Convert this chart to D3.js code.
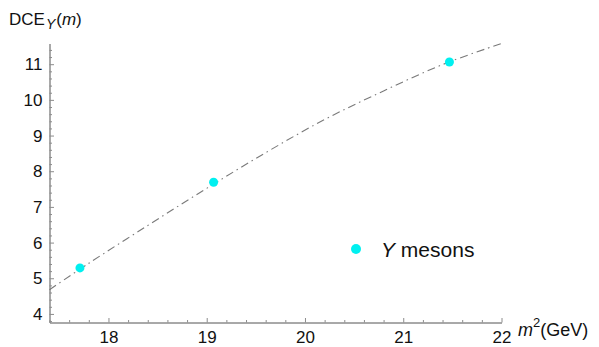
<!DOCTYPE html>
<html>
<head>
<meta charset="utf-8">
<script src="https://cdn.jsdelivr.net/npm/d3@7"></script>
<style>
  body { margin: 0; background: #fff; }
  svg { display: block; font-family: "Liberation Sans", Arial, sans-serif; }
</style>
</head>
<body>
<div id="chart"></div>
<script>
// measured points
const mesonM2 = [17.71, 19.07, 21.47];
const mesonDCE = [5.29, 7.69, 11.06];

// fitted curve
const curveM2 = [17.40, 17.80, 18.40, 19.00, 19.60, 20.20, 20.80, 21.40, 22.00];
const curveDCE = [4.68, 5.42, 6.48, 7.52, 8.52, 9.45, 10.25, 10.99, 11.58];

const xMajor = [18, 19, 20, 21, 22];
const yMajor = [4, 5, 6, 7, 8, 9, 10, 11];

const width = 599;
const height = 347;

const x = d3.scaleLinear().domain([17.40, 22.0]).range([49.5, 501.5]);
const y = d3.scaleLinear().domain([3.76, 11.58]).range([322.5, 43.5]);

const axisColor = "#8c8c8c";
const pointColor = "#00f0f0";

const svg = d3.select("#chart")
    .append("svg")
    .attr("width", width)
    .attr("height", height);

const xMinor = d3.range(17.4, 22.001, 0.2).map(v => +v.toFixed(1)).filter(v => !xMajor.includes(v));
const yMinor = d3.range(3.8, 11.58, 0.2).map(v => +v.toFixed(1)).filter(v => !yMajor.includes(v));

function styleAxis(g) {
    g.select(".domain").attr("stroke", axisColor);
    g.selectAll(".tick line").attr("stroke", axisColor);
    g.selectAll(".tick text")
        .attr("fill", "#111")
        .style("font-size", "17px")
        .style("font-family", "'Liberation Sans', Arial, sans-serif");
}

// minor ticks
svg.append("g")
    .attr("transform", `translate(0,${y.range()[0]})`)
    .call(d3.axisBottom(x).tickValues(xMinor).tickSize(-2.5).tickSizeOuter(0).tickFormat(""))
    .call(styleAxis);
svg.append("g")
    .attr("transform", `translate(${x.range()[0]},0)`)
    .call(d3.axisLeft(y).tickValues(yMinor).tickSize(-2.5).tickSizeOuter(0).tickFormat(""))
    .call(styleAxis);

// major ticks
svg.append("g")
    .attr("transform", `translate(0,${y.range()[0]})`)
    .call(d3.axisBottom(x).tickValues(xMajor).tickSize(-4.5).tickSizeOuter(0).tickPadding(8).tickFormat(d3.format("d")))
    .call(styleAxis);
svg.append("g")
    .attr("transform", `translate(${x.range()[0]},0)`)
    .call(d3.axisLeft(y).tickValues(yMajor).tickSize(-4.5).tickSizeOuter(0).tickPadding(7).tickFormat(d3.format("d")))
    .call(styleAxis);

// fit curve
const line = d3.line()
    .x(d => x(d[0]))
    .y(d => y(d[1]))
    .curve(d3.curveCatmullRom);

svg.append("path")
    .datum(d3.zip(curveM2, curveDCE))
    .attr("d", line)
    .attr("fill", "none")
    .attr("stroke", "#7a7a7a")
    .attr("stroke-width", 1.1)
    .attr("stroke-dasharray", "8,4,1.5,4");

// points
svg.append("g")
    .selectAll("circle")
    .data(d3.zip(mesonM2, mesonDCE))
    .enter()
    .append("circle")
    .attr("cx", d => x(d[0]))
    .attr("cy", d => y(d[1]))
    .attr("r", 4.5)
    .attr("fill", pointColor);

// legend
const legend = svg.append("g").attr("transform", "translate(356,249)");
legend.append("circle").attr("r", 5).attr("fill", pointColor);
const legendText = legend.append("text")
    .attr("x", 25)
    .attr("y", 7.5)
    .attr("fill", "#111")
    .style("font-size", "21px");
legendText.append("tspan").style("font-style", "italic").text("Y");
legendText.append("tspan").text(" mesons");

// y axis label
const yLabel = svg.append("text")
    .attr("x", 9)
    .attr("y", 25)
    .attr("fill", "#111")
    .style("font-size", "17px");
yLabel.append("tspan").text("DCE");
yLabel.append("tspan").attr("dx", 1).attr("dy", 4).style("font-size", "14px").style("font-style", "italic").text("Y");
yLabel.append("tspan").attr("dx", 1).attr("dy", -4).text("(");
yLabel.append("tspan").style("font-style", "italic").text("m");
yLabel.append("tspan").text(")");

// x axis label
const xLabel = svg.append("text")
    .attr("x", 518)
    .attr("y", 336)
    .attr("fill", "#111")
    .style("font-size", "18px");
xLabel.append("tspan").style("font-style", "italic").text("m");
xLabel.append("tspan").attr("dy", -9).style("font-size", "13px").text("2");
xLabel.append("tspan").attr("dy", 9).text("(GeV)");
</script>
</body>
</html>
